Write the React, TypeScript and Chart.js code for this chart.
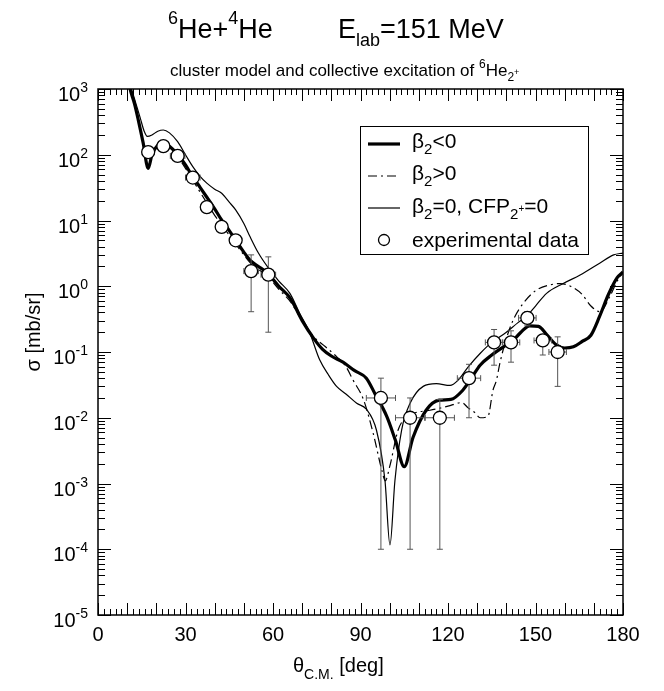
import React, { useEffect, useRef } from "react";
import { Chart, registerables } from "chart.js";

Chart.register(...registerables);

// ---------- data ----------
const thetaNeg = [10, 11, 12.5, 13.8, 15.5, 17.2, 18.5, 20.5, 22.5, 24.5, 27, 30, 32.5, 35, 37.5, 40, 42.5, 45, 47.5, 50, 52.5, 55, 58, 62, 66, 70, 74, 77, 80, 84, 88, 92, 95, 99, 102, 105, 108, 112.5, 117, 121, 125, 128, 131, 135, 139, 142, 145, 148, 151, 154, 157, 160, 163, 166, 169, 172, 175, 178, 180];
const sigmaNeg = [1700, 1000, 600, 340, 150, 62, 100, 140, 152, 135, 105, 70, 46, 32, 22, 15, 10, 7, 4.8, 3.3, 2.4, 2.0, 1.6, 1.0, 0.65, 0.3, 0.16, 0.11, 0.087, 0.07, 0.052, 0.04, 0.023, 0.0105, 0.0045, 0.0018, 0.005, 0.013, 0.0185, 0.019, 0.026, 0.04, 0.063, 0.09, 0.12, 0.145, 0.2, 0.25, 0.245, 0.18, 0.13, 0.115, 0.12, 0.145, 0.18, 0.35, 0.75, 1.35, 1.65];

const thetaPos = [10, 11, 12.5, 13.8, 15.5, 17.2, 18.5, 20.5, 22.5, 24.5, 27, 30, 33.8, 37.5, 40, 42.5, 45, 47.5, 50, 52.5, 55, 58, 62, 66, 70, 74, 78, 81.8, 85, 87.5, 91, 94.4, 97.3, 98.5, 100, 102.9, 106, 109, 113.8, 120, 124.7, 127, 129.2, 131, 133.7, 135.4, 136.6, 137.8, 140, 142.4, 145.8, 150.4, 155, 158.4, 162, 166, 169, 172.1, 175.5, 178, 180];
const sigmaPos = [1700, 1000, 600, 340, 150, 65, 100, 135, 145, 130, 98, 62, 33, 18, 12, 8.5, 6, 4.2, 3, 2.2, 1.8, 1.45, 0.9, 0.58, 0.3, 0.17, 0.12, 0.085, 0.06, 0.037, 0.019, 0.0057, 0.0016, 0.0011, 0.0018, 0.0065, 0.0105, 0.012, 0.013, 0.015, 0.017, 0.014, 0.012, 0.01, 0.0105, 0.026, 0.037, 0.068, 0.16, 0.31, 0.55, 0.88, 1.05, 1.1, 1.0, 0.75, 0.5, 0.41, 0.7, 1.2, 1.6];

const thetaZero = [10.2, 11.5, 13, 14.5, 15.8, 16.9, 18.5, 20.5, 22.4, 24.5, 27.3, 30, 32.5, 35, 37.3, 40, 42.4, 45, 47.2, 50, 52.1, 55, 58.4, 62, 65.8, 69, 72.7, 76, 79, 81.8, 85, 88.7, 92, 95.5, 98.4, 100.1, 101.8, 104.1, 107, 111.5, 116, 120.7, 123.4, 127, 131, 135, 140, 144, 147, 150, 153.8, 159.5, 165.3, 172, 176.8, 180];
const sigmaZero = [1600, 1000, 600, 360, 230, 190, 200, 228, 238, 215, 158, 100, 66, 47, 37, 30, 26, 19, 14.5, 9, 5.7, 3.2, 1.9, 1.2, 0.78, 0.4, 0.19, 0.076, 0.045, 0.03, 0.023, 0.0166, 0.0135, 0.0064, 0.0011, 0.000116, 0.0011, 0.0065, 0.0166, 0.03, 0.033, 0.031, 0.037, 0.06, 0.095, 0.14, 0.2, 0.28, 0.35, 0.5, 0.78, 1.1, 1.48, 2.24, 3.0, 3.2];

const expTheta = [17.2, 22.4, 27.3, 32.5, 37.3, 42.4, 47.2, 52.5, 58.4, 97.0, 107.0, 117.2, 127.2, 135.8, 141.6, 147.2, 152.5, 157.6];
const expSigma = [110, 135, 96, 45, 16, 8, 5, 1.7, 1.5, 0.02, 0.01, 0.01, 0.04, 0.14, 0.14, 0.33, 0.15, 0.1];
const expThetaErr = [2, 2, 2.5, 2.5, 2, 2, 2, 2.5, 2.5, 5, 5, 5, 4, 3, 3, 3, 3, 3];
const expSigmaLow = [95, 118, 84, 39, 14, 7, 4.4, 0.41, 0.2, 0.0001, 0.0001, 0.0001, 0.01, 0.063, 0.07, 0.25, 0.09, 0.03];
const expSigmaHigh = [125, 152, 108, 51, 18, 9, 5.6, 3.0, 2.8, 0.04, 0.02, 0.019, 0.065, 0.22, 0.21, 0.41, 0.17, 0.17];

const xTickLabels = [0, 30, 60, 90, 120, 150, 180];
const yDecades = [-5, -4, -3, -2, -1, 0, 1, 2, 3];

// ---------- drawing helpers ----------
const FONT = "'Liberation Sans', Arial, Helvetica, sans-serif";
type Part = { t: string; size: number; dy?: number };

function drawParts(ctx: CanvasRenderingContext2D, parts: Part[], x: number, y: number, align: "left" | "right" | "center" = "left") {
  let total = 0;
  for (const p of parts) {
    ctx.font = `${p.size}px ${FONT}`;
    total += ctx.measureText(p.t).width;
  }
  let cx = align === "left" ? x : align === "right" ? x - total : x - total / 2;
  ctx.textAlign = "left";
  ctx.textBaseline = "alphabetic";
  for (const p of parts) {
    ctx.font = `${p.size}px ${FONT}`;
    ctx.fillText(p.t, cx, y + (p.dy || 0));
    cx += ctx.measureText(p.t).width;
  }
}

const decorPlugin = {
  id: "decor",
  beforeDatasetDraw(chart: any, args: any) {
    if (args.index !== 0) return;
    const ctx: CanvasRenderingContext2D = chart.ctx;
    const xs = chart.scales.x;
    const ys = chart.scales.y;
    const ca = chart.chartArea;
    ctx.save();
    ctx.beginPath();
    ctx.rect(ca.left, ca.top, ca.right - ca.left, ca.bottom - ca.top);
    ctx.clip();
    ctx.strokeStyle = "#555";
    ctx.lineWidth = 1;
    const cap = 3;
    for (let i = 0; i < expTheta.length; i++) {
      const px = xs.getPixelForValue(expTheta[i]);
      const py = ys.getPixelForValue(expSigma[i]);
      const x0 = xs.getPixelForValue(expTheta[i] - expThetaErr[i]);
      const x1 = xs.getPixelForValue(expTheta[i] + expThetaErr[i]);
      const y0 = ys.getPixelForValue(expSigmaLow[i]);
      const y1 = ys.getPixelForValue(expSigmaHigh[i]);
      ctx.beginPath();
      ctx.moveTo(x0, py); ctx.lineTo(x1, py);
      ctx.moveTo(x0, py - cap); ctx.lineTo(x0, py + cap);
      ctx.moveTo(x1, py - cap); ctx.lineTo(x1, py + cap);
      ctx.moveTo(px, y0); ctx.lineTo(px, y1);
      ctx.moveTo(px - cap, y0); ctx.lineTo(px + cap, y0);
      ctx.moveTo(px - cap, y1); ctx.lineTo(px + cap, y1);
      ctx.stroke();
    }
    ctx.restore();
  },
  afterDatasetsDraw(chart: any) {
    const ctx: CanvasRenderingContext2D = chart.ctx;
    const xs = chart.scales.x;
    const ys = chart.scales.y;
    const ca = chart.chartArea;
    ctx.save();
    ctx.fillStyle = "#000";
    ctx.strokeStyle = "#000";

    // ticks (inward, on all four sides)
    ctx.lineWidth = 1;
    ctx.beginPath();
    for (let v = 0; v <= 180; v += 2) {
      const px = Math.round(xs.getPixelForValue(v)) + 0.5;
      const len = v % 10 === 0 ? 12 : 6;
      ctx.moveTo(px, ca.bottom); ctx.lineTo(px, ca.bottom - len);
      ctx.moveTo(px, ca.top); ctx.lineTo(px, ca.top + len);
    }
    for (const e of yDecades) {
      for (let m = 1; m <= 9; m++) {
        if (e === 3 && m > 1) break;
        const py = Math.round(ys.getPixelForValue(m * Math.pow(10, e))) + 0.5;
        const len = m === 1 ? 13 : 7;
        ctx.moveTo(ca.left, py); ctx.lineTo(ca.left + len, py);
        ctx.moveTo(ca.right, py); ctx.lineTo(ca.right - len, py);
      }
    }
    ctx.stroke();

    // frame
    ctx.lineWidth = 1.5;
    ctx.strokeRect(ca.left, ca.top, ca.right - ca.left, ca.bottom - ca.top);

    // x tick labels
    ctx.font = `20px ${FONT}`;
    ctx.textAlign = "center";
    ctx.textBaseline = "alphabetic";
    for (const v of xTickLabels) {
      ctx.fillText(String(v), xs.getPixelForValue(v), 641);
    }
    // y tick labels
    for (const e of yDecades) {
      const py = ys.getPixelForValue(Math.pow(10, e));
      drawParts(ctx, [{ t: "10", size: 20 }, { t: String(e), size: 14, dy: -9 }], 88, py + 12, "right");
    }

    // axis titles
    drawParts(ctx, [{ t: "θ", size: 20 }, { t: "C.M.", size: 14, dy: 7 }, { t: " [deg]", size: 20 }], 293, 672, "left");
    ctx.save();
    ctx.translate(40, 332);
    ctx.rotate(-Math.PI / 2);
    drawParts(ctx, [{ t: "σ [mb/sr]", size: 20 }], 0, 0, "center");
    ctx.restore();

    // titles
    drawParts(ctx, [{ t: "6", size: 18, dy: -14 }, { t: "He+", size: 27 }, { t: "4", size: 18, dy: -14 }, { t: "He", size: 27 }], 168, 38, "left");
    drawParts(ctx, [{ t: "E", size: 27 }, { t: "lab", size: 18, dy: 8 }, { t: "=151 MeV", size: 27 }], 338, 38, "left");
    drawParts(ctx, [
      { t: "cluster model and collective excitation of ", size: 17 },
      { t: "6", size: 12, dy: -8 },
      { t: "He", size: 17 },
      { t: "2", size: 12, dy: 5 },
      { t: "+", size: 9, dy: -1 },
    ], 170, 76, "left");

    // legend
    const lx = 360.5, ly = 126.5, lw = 228, lh = 128;
    ctx.fillStyle = "#fff";
    ctx.fillRect(lx, ly, lw, lh);
    ctx.lineWidth = 1;
    ctx.strokeStyle = "#000";
    ctx.strokeRect(lx, ly, lw, lh);
    ctx.fillStyle = "#000";
    const rows = [144, 176, 208, 240];
    const ds = chart.data.datasets;
    for (let r = 0; r < 3; r++) {
      const d = ds[r + 1];
      ctx.save();
      ctx.lineWidth = d.borderWidth;
      ctx.setLineDash(d.borderDash || []);
      ctx.beginPath();
      ctx.moveTo(368, rows[r]);
      ctx.lineTo(400, rows[r]);
      ctx.stroke();
      ctx.restore();
    }
    ctx.save();
    ctx.fillStyle = "#fff";
    ctx.lineWidth = 1.3;
    ctx.beginPath();
    ctx.arc(384, rows[3], 5.5, 0, Math.PI * 2);
    ctx.fill();
    ctx.stroke();
    ctx.restore();
    const tx = 412;
    drawParts(ctx, [{ t: "β", size: 21 }, { t: "2", size: 15, dy: 6 }, { t: "<0", size: 21 }], tx, 148, "left");
    drawParts(ctx, [{ t: "β", size: 21 }, { t: "2", size: 15, dy: 6 }, { t: ">0", size: 21 }], tx, 180, "left");
    drawParts(ctx, [{ t: "β", size: 21 }, { t: "2", size: 15, dy: 6 }, { t: "=0, CFP", size: 21 }, { t: "2", size: 15, dy: 6 }, { t: "+", size: 10, dy: -1 }, { t: "=0", size: 21 }], tx, 213, "left");
    drawParts(ctx, [{ t: "experimental data", size: 21 }], tx, 247, "left");

    ctx.restore();
  },
};

export default function App() {
  const ref = useRef<HTMLCanvasElement | null>(null);
  useEffect(() => {
    if (!ref.current) return;
    const toXY = (xs: number[], ys: number[]) => xs.map((x, i) => ({ x, y: ys[i] }));
    const chart = new Chart(ref.current, {
      type: "scatter",
      data: {
        datasets: [
          {
            label: "experimental data",
            data: toXY(expTheta, expSigma),
            showLine: false,
            pointRadius: 6.5,
            pointBackgroundColor: "#fff",
            pointBorderColor: "#000",
            pointBorderWidth: 1.3,
          },
          {
            label: "β2<0",
            data: toXY(thetaNeg, sigmaNeg),
            showLine: true,
            borderColor: "#000",
            borderWidth: 3.2,
            pointRadius: 0,
            cubicInterpolationMode: "monotone",
          },
          {
            label: "β2>0",
            data: toXY(thetaPos, sigmaPos),
            showLine: true,
            borderColor: "#000",
            borderWidth: 1.2,
            borderDash: [9, 4, 2, 4],
            pointRadius: 0,
            cubicInterpolationMode: "monotone",
          },
          {
            label: "β2=0, CFP2+=0",
            data: toXY(thetaZero, sigmaZero),
            showLine: true,
            borderColor: "#000",
            borderWidth: 1.2,
            pointRadius: 0,
            cubicInterpolationMode: "monotone",
          },
        ],
      },
      options: {
        animation: false,
        responsive: false,
        devicePixelRatio: 1,
        layout: { padding: { left: 98, right: 41, top: 89, bottom: 76 } },
        plugins: { legend: { display: false }, tooltip: { enabled: false }, title: { display: false } },
        scales: {
          x: { type: "linear", min: 0, max: 180, display: false },
          y: { type: "logarithmic", min: 1e-5, max: 1e3, display: false },
        },
      } as any,
      plugins: [decorPlugin as any],
    });
    return () => chart.destroy();
  }, []);
  return (
    <div style={{ position: "fixed", left: 0, top: 0, width: 664, height: 691, background: "#fff" }}>
      <canvas ref={ref} width={664} height={691} style={{ display: "block" }} />
    </div>
  );
}
